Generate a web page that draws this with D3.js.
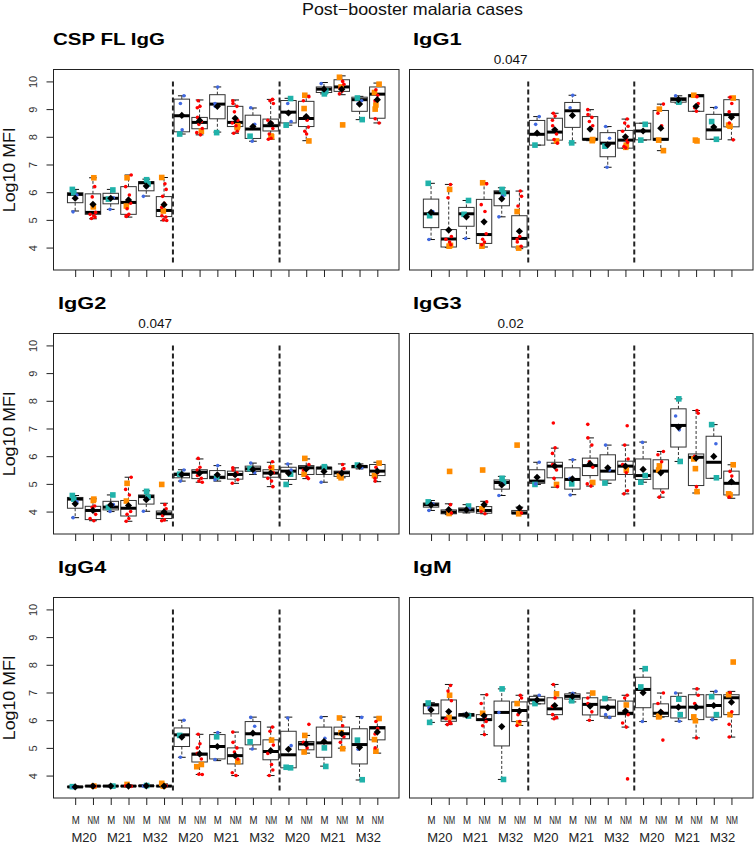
<!DOCTYPE html>
<html>
<head>
<meta charset="utf-8">
<script src="https://cdn.jsdelivr.net/npm/d3@7"></script>
<style>
  body { margin: 0; background: #fff; }
  text { font-family: "Liberation Sans", Arial, sans-serif; }
</style>
</head>
<body>
<svg id="chart" width="756" height="845"></svg>
<script>
// ---- data ----
const mainTitle = "Post\u2212booster malaria cases";
const panelTitles = ["CSP FL IgG", "IgG1", "IgG2", "IgG3", "IgG4", "IgM"];
const pValues = ["", "0.047", "0.047", "0.02", "", ""];
const subLabels = ["M", "NM"];
const groupLabels = ["M20", "M21", "M32"];
const yTicks = [4, 5, 6, 7, 8, 9, 10];
const yLabel = "Log10 MFI";

// box stats per box: [lower whisker, q1, median, q3, upper whisker, mean]
const cspStats = [
  [5.32, 5.62, 5.92, 5.98, 6.1, 5.78], [5.04, 5.2, 5.27, 5.94, 6.52, 5.56],
  [5.38, 5.58, 5.78, 5.96, 6.1, 5.78], [5.1, 5.2, 5.63, 6.2, 6.62, 5.72],
  [5.86, 6.05, 6.34, 6.38, 6.47, 6.22], [4.97, 5.12, 5.34, 5.84, 6.53, 5.55],
  [8.1, 8.18, 8.76, 9.36, 9.48, 8.77], [8.07, 8.29, 8.52, 8.7, 9.33, 8.59],
  [8.17, 8.65, 9.18, 9.52, 9.8, 9.1], [8.13, 8.37, 8.52, 9.1, 9.33, 8.67],
  [7.84, 7.94, 8.28, 8.78, 9.04, 8.37], [7.91, 8.21, 8.4, 8.64, 9.35, 8.49],
  [8.42, 8.5, 8.89, 9.31, 9.39, 8.86], [7.86, 8.37, 8.66, 9.28, 9.5, 8.73],
  [9.55, 9.6, 9.72, 9.8, 9.96, 9.72], [9.52, 9.64, 9.8, 10.06, 10.2, 9.72],
  [8.62, 8.92, 9.34, 9.43, 9.46, 9.18], [8.5, 8.67, 9.54, 9.8, 9.94, 9.34]
];
const cspDots = [
  [5.29, 5.9], [6.2, 5.83, 5.27, 5.2, 5.15, 5.1, 5.05], [5.38, 5.8],
  [6.62, 6.2, 5.9, 5.6, 5.4, 5.2, 5.15, 5.12], [5.85, 6.2],
  [6.3, 6.1, 5.85, 5.6, 5.45, 5.15, 5.1, 5.0, 4.98],
  [9.48, 9.2, 8.25], [9.3, 9.1, 9.05, 8.7, 8.55, 8.45, 8.3, 8.15, 8.07], [9.8, 9.2, 9.1],
  [9.3, 9.2, 9.1, 8.9, 8.6, 8.5, 8.4, 8.2, 8.13], [9.05, 8.45, 7.84],
  [9.35, 9.3, 9.2, 8.6, 8.5, 8.3, 8.1, 7.95, 7.91],
  [9.2, 8.55], [9.45, 9.3, 8.6, 8.35, 8.2, 8.1], [9.92, 9.7],
  [10.0, 9.9, 9.75, 9.65, 9.55], [9.3, 9.2], [9.7, 9.5, 9.3, 8.65, 8.5]
];
const cspSquares = [
  [6.1, 5.98], [6.52, 5.47], [6.08, 5.75], [6.52, 5.5], [6.45, 6.3], [6.53, 5.32],
  [8.1], [8.2], [8.15], [8.4, 8.33], [8.02], [8.0, 8.03],
  [9.38, 8.42], [9.5, 9.02, 7.85], [9.55, 9.65], [10.15, 9.8, 8.43], [9.4, 8.62], [9.9, 9.6, 9.15, 9.0]
];

const igg1Stats = [
  [4.29, 4.72, 5.22, 5.75, 6.32, 5.27], [4.0, 4.02, 4.31, 4.65, 6.28, 4.63],
  [4.33, 4.77, 5.22, 5.45, 5.7, 5.11], [4.02, 4.15, 4.47, 5.74, 6.34, 4.93],
  [5.11, 5.51, 5.98, 6.05, 6.16, 5.76], [3.96, 4.02, 4.33, 5.15, 6.04, 4.59],
  [7.7, 7.7, 8.09, 8.59, 8.73, 8.13], [7.77, 7.88, 8.17, 8.67, 8.85, 8.25],
  [7.78, 8.34, 8.94, 9.24, 9.5, 8.77], [7.86, 7.89, 7.91, 8.73, 8.98, 8.28],
  [6.9, 7.28, 7.77, 8.15, 8.37, 7.71], [7.59, 7.59, 7.88, 8.23, 8.64, 8.0],
  [7.88, 7.89, 8.21, 8.49, 8.49, 8.21], [7.5, 7.88, 7.91, 8.95, 9.18, 8.31],
  [9.22, 9.25, 9.35, 9.41, 9.48, 9.34], [8.92, 8.92, 9.48, 9.52, 9.52, 9.1],
  [7.91, 7.91, 8.25, 8.81, 9.06, 8.35], [7.89, 8.36, 8.8, 9.34, 9.43, 8.71]
];
const igg1Dots = [
  [4.29, 5.3], [6.28, 5.8, 4.4, 4.3, 4.2, 4.1], [4.33],
  [6.3, 5.55, 5.3, 4.5, 4.3, 4.2, 4.1], [5.11, 5.85], [6.04, 5.85, 5.5, 4.4, 4.3, 4.2, 4.05],
  [8.73, 8.45], [8.85, 8.75, 8.6, 8.4, 8.1, 7.9, 7.77], [9.5, 9.05],
  [8.98, 8.8, 8.7, 8.55, 8.4], [8.37, 7.95, 6.9], [8.64, 8.5, 8.38, 8.2, 7.9, 7.8, 7.65, 7.6],
  [8.2], [9.18, 8.85, 8.4], [9.48], [9.45, 9.2, 9.05, 8.92], [9.06], [9.43, 9.2, 8.9, 8.5, 7.89]
];
const igg1Squares = [
  [6.32, 5.15], [6.1, 4.05, 4.08], [5.7, 5.2], [6.34, 4.05], [6.1, 5.95], [5.3, 3.98],
  [7.7], [7.85], [7.78], [7.9, 7.86], [7.66], [7.7, 7.62],
  [8.45, 7.88], [9.0, 7.88, 7.5], [9.25], [9.5, 7.88, 7.85], [8.55, 7.91], [9.4, 8.42, 8.38]
];

const igg2Stats = [
  [3.78, 4.12, 4.45, 4.51, 4.58, 4.28], [3.67, 3.71, 4.04, 4.19, 4.46, 4.04],
  [4.0, 4.06, 4.16, 4.37, 4.6, 4.24], [3.65, 3.84, 4.12, 4.4, 5.24, 4.22],
  [4.01, 4.27, 4.54, 4.6, 4.75, 4.43], [3.67, 3.75, 3.92, 4.02, 4.3, 3.98],
  [5.1, 5.22, 5.34, 5.39, 5.51, 5.34], [5.06, 5.19, 5.42, 5.51, 5.9, 5.39],
  [5.1, 5.19, 5.24, 5.48, 5.66, 5.33], [5.02, 5.17, 5.34, 5.46, 5.58, 5.33],
  [5.34, 5.45, 5.54, 5.64, 5.75, 5.52], [4.9, 5.24, 5.39, 5.51, 5.78, 5.39],
  [4.98, 5.16, 5.46, 5.6, 5.72, 5.39], [5.19, 5.34, 5.58, 5.66, 5.9, 5.54],
  [5.06, 5.34, 5.57, 5.6, 5.64, 5.45], [5.22, 5.27, 5.4, 5.46, 5.72, 5.39],
  [5.54, 5.58, 5.63, 5.66, 5.72, 5.64], [5.08, 5.3, 5.46, 5.7, 5.78, 5.46]
];
const igg2Dots = [
  [3.78, 4.35], [4.2, 4.15, 3.9, 3.75, 3.67], [4.0, 4.25], [5.24, 4.8, 4.6, 4.0, 3.9, 3.75, 3.65],
  [4.01, 4.45], [4.25, 4.1, 3.85, 3.7, 3.67],
  [5.5, 5.1], [5.92, 5.6, 5.5, 5.3, 5.2, 5.1, 5.06], [5.66, 5.15], [5.58, 5.5, 5.4, 5.3, 5.15, 5.02],
  [5.75, 5.4], [5.8, 5.6, 5.4, 5.2, 5.1, 4.9],
  [5.72, 5.5], [5.7, 5.5, 5.25, 5.19], [5.06], [5.7, 5.55, 5.4], [5.58], [5.6, 5.4, 5.2, 5.1]
];
const igg2Squares = [
  [4.58, 4.45], [4.45, 4.4], [4.6, 4.15], [5.02, 4.38], [4.73, 4.52], [4.98],
  [5.35], [], [5.25], [], [5.55], [5.58],
  [5.35, 4.98], [5.92, 5.35], [5.62], [5.28, 5.22], [5.68], [5.75, 5.3]
];

const igg3Stats = [
  [4.04, 4.16, 4.25, 4.31, 4.4, 4.24], [3.89, 3.92, 3.98, 4.06, 4.28, 4.07],
  [3.95, 3.98, 4.06, 4.13, 4.25, 4.06], [3.92, 3.94, 4.04, 4.18, 4.37, 4.25],
  [4.58, 4.81, 5.05, 5.14, 5.27, 4.96], [3.92, 3.92, 3.95, 4.04, 4.16, 4.13],
  [4.98, 5.02, 5.1, 5.51, 5.78, 5.24], [4.88, 5.22, 5.64, 5.78, 6.29, 5.64],
  [4.61, 4.81, 5.16, 5.58, 5.87, 5.18], [4.92, 5.3, 5.66, 5.93, 6.66, 5.72],
  [5.02, 5.14, 5.46, 6.05, 6.4, 5.58], [4.64, 5.34, 5.64, 5.82, 6.4, 5.64],
  [5.06, 5.16, 5.3, 5.9, 6.51, 5.52], [4.52, 4.82, 5.46, 5.87, 6.17, 5.4],
  [5.81, 6.33, 7.11, 7.71, 8.07, 7.05], [4.67, 4.94, 5.96, 6.08, 7.65, 5.93],
  [5.2, 5.2, 5.78, 6.72, 7.14, 5.99], [4.48, 4.6, 5.02, 5.46, 5.69, 5.08]
];
const igg3Dots = [
  [4.04, 4.28], [4.25, 4.05, 3.95], [4.05, 4.1], [4.35, 4.0, 3.92], [4.58, 5.0], [4.1, 3.95],
  [5.78, 5.0], [7.2, 6.3, 6.1, 5.7, 5.5, 5.2, 4.9], [5.87, 5.2, 4.6],
  [7.15, 6.66, 6.4, 5.8, 5.6, 5.0, 4.92], [6.4, 5.5], [7.1, 6.4, 5.9, 5.7, 5.4, 4.75, 4.64],
  [6.5], [6.17, 6.05, 5.8, 4.7, 4.52], [7.45, 6.95], [7.65, 7.55, 6.0, 4.9], [6.45], [5.45, 5.28, 4.52]
];
const igg3Squares = [
  [4.35], [5.45, 3.93], [4.2], [5.5, 4.1], [5.2, 5.05], [6.4, 3.92],
  [4.98], [4.98], [5.0], [5.05], [5.03], [5.5],
  [5.3, 5.06], [5.65, 5.5], [8.07, 5.81], [5.9, 5.55, 4.72], [7.14, 5.22], [5.69, 4.64, 4.6]
];

const igg4Stats = [
  [3.57, 3.58, 3.59, 3.61, 3.62, 3.59], [3.6, 3.61, 3.62, 3.63, 3.64, 3.62],
  [3.6, 3.61, 3.62, 3.63, 3.63, 3.62], [3.6, 3.61, 3.62, 3.63, 3.66, 3.62],
  [3.61, 3.62, 3.63, 3.64, 3.65, 3.63], [3.6, 3.61, 3.62, 3.63, 3.7, 3.62],
  [4.66, 5.05, 5.47, 5.72, 6.0, 5.39], [4.04, 4.49, 4.77, 4.81, 5.49, 4.78],
  [4.54, 4.6, 5.05, 5.48, 5.55, 5.05], [4.0, 4.42, 4.72, 5.0, 5.57, 4.72],
  [4.96, 5.11, 5.51, 5.95, 6.11, 5.53], [4.0, 4.57, 4.87, 5.29, 5.75, 4.9],
  [4.28, 4.28, 4.75, 5.6, 6.11, 4.95], [4.81, 4.93, 5.14, 5.23, 5.45, 5.14],
  [4.34, 4.66, 5.18, 5.75, 6.13, 5.23], [4.99, 5.33, 5.51, 5.75, 6.11, 5.51],
  [3.84, 4.42, 5.12, 5.69, 6.13, 5.02], [4.81, 5.29, 5.72, 5.77, 6.11, 5.57]
];
const igg4Dots = [
  [3.58], [3.61, 3.63], [3.61], [3.61, 3.63], [3.62], [3.61, 3.63],
  [6.0, 4.66], [5.49, 5.15, 5.0, 4.8, 4.6, 4.05, 4.04], [5.55, 4.58],
  [5.57, 5.2, 5.0, 4.85, 4.6, 4.1, 4.0], [6.1, 5.78, 4.96], [5.75, 5.6, 5.1, 4.8, 4.4, 4.2, 4.0],
  [6.08, 5.08], [5.85, 5.2, 5.0], [6.1, 5.35], [5.8, 5.4, 5.2], [6.1, 4.95], [5.95, 5.7, 5.5, 5.0]
];
const igg4Squares = [
  [3.6], [3.62], [3.62], [3.68], [3.64], [3.72, 3.62],
  [5.45], [4.4, 4.32], [5.4], [4.5], [5.22], [5.28],
  [4.28, 4.3], [5.45, 4.85], [5.0, 4.33], [6.08, 5.55, 4.97], [5.28, 3.85], [6.06, 5.3, 4.88]
];

const igmStats = [
  [5.92, 6.23, 6.55, 6.59, 6.63, 6.37], [5.84, 5.96, 6.08, 6.73, 7.29, 6.31],
  [6.12, 6.14, 6.2, 6.23, 6.25, 6.19], [5.48, 5.99, 6.02, 6.2, 6.92, 6.16],
  [3.86, 5.07, 6.28, 6.69, 7.13, 5.77], [5.81, 5.95, 6.35, 6.66, 6.9, 6.33],
  [6.59, 6.59, 6.73, 6.86, 6.9, 6.73], [6.05, 6.2, 6.41, 6.81, 7.29, 6.53],
  [6.66, 6.76, 6.86, 6.95, 6.99, 6.86], [5.99, 6.19, 6.57, 6.81, 6.98, 6.51],
  [6.08, 6.14, 6.47, 6.73, 6.81, 6.45], [5.75, 6.2, 6.25, 6.69, 6.9, 6.33],
  [5.95, 6.45, 7.11, 7.55, 7.86, 6.99], [6.11, 6.13, 6.25, 6.59, 6.98, 6.29],
  [5.96, 6.08, 6.47, 6.86, 6.98, 6.47], [5.36, 6.02, 6.47, 6.92, 7.13, 6.47],
  [6.02, 6.11, 6.53, 6.92, 7.04, 6.53], [5.39, 6.2, 6.81, 6.92, 7.04, 6.65]
];
const igmDots = [
  [6.45], [7.25, 7.05, 6.7, 6.05, 5.95, 5.88, 5.84], [6.22], [6.92, 6.6, 6.1, 5.95, 5.8, 5.48],
  [6.28], [6.9, 6.8, 6.2, 5.95, 5.81],
  [6.9], [7.29, 6.8, 6.5, 6.2, 6.1, 6.05], [6.97], [6.8, 6.6, 6.3, 6.0], [6.2, 6.1],
  [6.9, 6.8, 6.2, 5.9, 5.75, 3.88],
  [5.95], [6.98, 6.6, 6.3, 5.28], [6.98, 5.96], [7.13, 6.9, 6.6, 5.36], [7.04, 6.02], [7.0, 6.3, 5.85, 5.39]
];
const igmSquares = [
  [6.62, 5.92], [6.9, 6.1], [6.15], [6.25], [7.13, 3.86], [6.6, 5.9],
  [6.6], [6.95], [6.7], [6.98], [6.78], [6.55],
  [7.86, 7.2], [6.15, 6.12], [6.76, 6.2], [6.12, 5.98], [6.85, 6.2], [8.1, 6.92, 6.2]
];

const panels = [
  { stats: cspStats, dots: cspDots, squares: cspSquares },
  { stats: igg1Stats, dots: igg1Dots, squares: igg1Squares },
  { stats: igg2Stats, dots: igg2Dots, squares: igg2Squares },
  { stats: igg3Stats, dots: igg3Dots, squares: igg3Squares },
  { stats: igg4Stats, dots: igg4Dots, squares: igg4Squares },
  { stats: igmStats, dots: igmDots, squares: igmSquares }
];

// ---- layout ----
const colLeft = [53.5, 409.5], colRight = [399, 753];
const rowTop = [69.5, 333.5, 597.5], panelH = 200.5;
const titleX = [53, 413, 58, 413, 58, 413];
const titleW = [112, 48.7, 48.3, 48.7, 48.3, 38.7];
const dotColor = ["#4169E1", "#FF0000"];   // M, NM
const squareColor = ["#20B2AA", "#FF8C00"]; // M, NM
const jitter = [-0.12, 0.1, -0.04, 0.15, -0.16, 0.05, 0.12, -0.08, 0.02, -0.13];

const svg = d3.select("#chart");

svg.append("text")
  .attr("x", 412.5).attr("y", 15)
  .attr("text-anchor", "middle")
  .attr("font-size", "16.5px")
  .attr("textLength", 221)
  .attr("lengthAdjust", "spacingAndGlyphs")
  .attr("fill", "#111")
  .text(mainTitle);

panels.forEach((p, k) => {
  const col = k % 2, row = Math.floor(k / 2);
  const top = rowTop[row], bottom = top + panelH;

  const x = d3.scaleLinear().domain([-0.22, 19.22]).range([colLeft[col], colRight[col]]);
  const y = d3.scaleLinear().domain([3.19, 10.43]).range([bottom, top]);
  const unit = x(1) - x(0);
  const boxW = unit * 0.87;

  const g = svg.append("g");

  // panel title
  g.append("text")
    .attr("x", titleX[k]).attr("y", top - 25)
    .attr("font-family", "DejaVu Sans")
    .attr("font-weight", "bold")
    .attr("font-size", "17px")
    .attr("textLength", titleW[k])
    .attr("lengthAdjust", "spacingAndGlyphs")
    .text(panelTitles[k]);

  if (pValues[k]) {
    g.append("text")
      .attr("x", x(5.5)).attr("y", top - 5.7)
      .attr("text-anchor", "middle")
      .attr("font-size", "13.5px")
      .attr("fill", "#111")
      .text(pValues[k]);
  }

  // separators
  g.selectAll(".sep").data([6.5, 12.5]).enter().append("line")
    .attr("x1", d => x(d)).attr("x2", d => x(d))
    .attr("y1", y(10)).attr("y2", y(3.42))
    .attr("stroke", "#222").attr("stroke-width", 2)
    .attr("stroke-dasharray", "5,3");

  const boxes = p.stats.map((s, i) => ({
    pos: i + 1, kind: i % 2,
    lo: s[0], q1: s[1], med: s[2], q3: s[3], hi: s[4], mean: s[5]
  }));

  const bg = g.selectAll(".box").data(boxes).enter().append("g");

  // whiskers
  bg.append("line")
    .attr("x1", d => x(d.pos)).attr("x2", d => x(d.pos))
    .attr("y1", d => y(d.q3)).attr("y2", d => y(d.hi))
    .attr("stroke", "#333").attr("stroke-dasharray", "3,2");
  bg.append("line")
    .attr("x1", d => x(d.pos)).attr("x2", d => x(d.pos))
    .attr("y1", d => y(d.q1)).attr("y2", d => y(d.lo))
    .attr("stroke", "#333").attr("stroke-dasharray", "3,2");
  ["hi", "lo"].forEach(key => {
    bg.append("line")
      .attr("x1", d => x(d.pos) - boxW / 4).attr("x2", d => x(d.pos) + boxW / 4)
      .attr("y1", d => y(d[key])).attr("y2", d => y(d[key]))
      .attr("stroke", "#111");
  });

  bg.append("rect")
    .attr("x", d => x(d.pos) - boxW / 2)
    .attr("y", d => y(d.q3))
    .attr("width", boxW)
    .attr("height", d => Math.max(0.5, y(d.q1) - y(d.q3)))
    .attr("fill", "none")
    .attr("stroke", "#333").attr("stroke-width", 1);

  bg.append("line")
    .attr("x1", d => x(d.pos) - boxW / 2).attr("x2", d => x(d.pos) + boxW / 2)
    .attr("y1", d => y(d.med)).attr("y2", d => y(d.med))
    .attr("stroke", "#000").attr("stroke-width", 3);

  // points
  const sq = [], dt = [];
  p.squares.forEach((vals, i) => vals.forEach((v, j) =>
    sq.push({ pos: i + 1, kind: i % 2, v, off: jitter[(j * 3 + i + 4) % jitter.length] })));
  p.dots.forEach((vals, i) => vals.forEach((v, j) =>
    dt.push({ pos: i + 1, kind: i % 2, v, off: jitter[(j + i) % jitter.length] })));

  g.selectAll(".sq").data(sq).enter().append("rect")
    .attr("x", d => x(d.pos + d.off) - 2.8)
    .attr("y", d => y(d.v) - 2.8)
    .attr("width", 5.6).attr("height", 5.6)
    .attr("fill", d => squareColor[d.kind]);

  g.selectAll(".dot").data(dt).enter().append("circle")
    .attr("cx", d => x(d.pos + d.off))
    .attr("cy", d => y(d.v))
    .attr("r", 1.8)
    .attr("fill", d => dotColor[d.kind]);

  // means
  g.selectAll(".mean").data(boxes).enter().append("path")
    .attr("d", d => {
      const cx = x(d.pos), cy = y(d.mean), r = 3.6;
      return `M${cx},${cy - r}L${cx + r},${cy}L${cx},${cy + r}L${cx - r},${cy}Z`;
    })
    .attr("fill", "#000");

  // frame
  g.append("rect")
    .attr("x", colLeft[col]).attr("y", top)
    .attr("width", colRight[col] - colLeft[col]).attr("height", panelH)
    .attr("fill", "none").attr("stroke", "#222").attr("stroke-width", 1);

  // x axis ticks
  const isBottom = row === 2;
  const xAxis = d3.axisBottom(x)
    .tickValues(d3.range(1, 19))
    .tickSize(7)
    .tickFormat(d => isBottom ? subLabels[(d - 1) % 2] : "");
  const xa = g.append("g").attr("transform", `translate(0,${bottom})`).call(xAxis);
  xa.select(".domain").remove();
  xa.selectAll(".tick line").attr("stroke", "#222");
  xa.selectAll(".tick text")
    .attr("y", 26).attr("dy", 0)
    .attr("font-family", "Liberation Sans")
    .attr("font-size", "11px")
    .attr("fill", "#222")
    .attr("textLength", d => (d - 1) % 2 ? 12 : 8)
    .attr("lengthAdjust", "spacingAndGlyphs");

  if (isBottom) {
    g.selectAll(".grp").data(d3.range(9)).enter().append("text")
      .attr("x", i => x(i * 2 + 1.5))
      .attr("y", 842.2)
      .attr("text-anchor", "middle")
      .attr("font-size", "13px")
      .attr("fill", "#222")
      .text(i => groupLabels[i % 3]);
  }

  // y axis (left column only)
  if (col === 0) {
    const yAxis = d3.axisLeft(y).tickValues(yTicks).tickSize(7).tickFormat(d3.format("d"));
    const ya = g.append("g").attr("transform", `translate(${colLeft[0]},0)`).call(yAxis);
    ya.select(".domain").remove();
    ya.selectAll(".tick line").attr("stroke", "#222");
    ya.selectAll(".tick text")
      .attr("x", 0).attr("y", -17).attr("dy", 0)
      .attr("text-anchor", "middle")
      .attr("transform", "rotate(-90)")
      .attr("font-family", "Liberation Sans")
      .attr("font-size", "11px")
      .attr("fill", "#333");

    g.append("text")
      .attr("transform", `translate(15,${top + panelH / 2}) rotate(-90)`)
      .attr("text-anchor", "middle")
      .attr("font-size", "16.5px")
      .attr("textLength", 85)
      .attr("lengthAdjust", "spacingAndGlyphs")
      .attr("fill", "#111")
      .text(yLabel);
  }
});
</script>
</body>
</html>
